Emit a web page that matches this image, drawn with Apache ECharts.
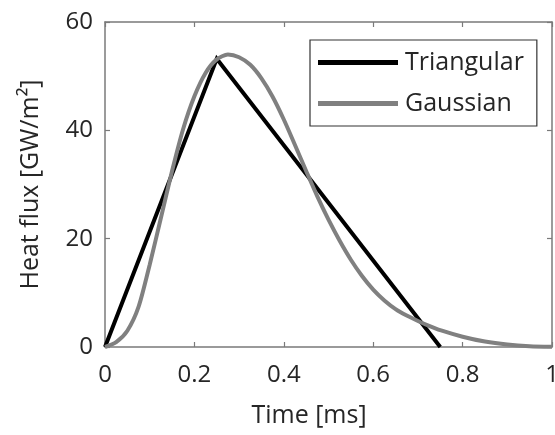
<!DOCTYPE html>
<html>
<head>
<meta charset="utf-8">
<script src="https://cdn.jsdelivr.net/npm/echarts@6/dist/echarts.min.js"></script>
<style>
html,body{margin:0;padding:0;background:#fff;}
#chart{width:555px;height:435px;}
</style>
</head>
<body>
<div id="chart"></div>
<script>
// Data
var seriesNames = ['Triangular', 'Gaussian'];
var triT = [0, 0.25, 0.75];
var triV = [0, 53.2, 0];
var gaussT = [0, 0.025, 0.05, 0.075, 0.1, 0.125, 0.15, 0.175, 0.2, 0.225, 0.25, 0.275, 0.3, 0.325, 0.35, 0.375, 0.4, 0.425, 0.45, 0.475, 0.5, 0.525, 0.55, 0.575, 0.6, 0.625, 0.65, 0.675, 0.7, 0.725, 0.75, 0.8, 0.85, 0.9, 0.95, 1.0];
var gaussV = [0, 0.9, 3.0, 7.4, 15.2, 23.8, 32.5, 40.3, 46.3, 50.6, 53.1, 54.0, 53.5, 52.1, 49.6, 46.2, 42.0, 37.3, 32.5, 27.8, 23.5, 19.6, 16.1, 13.1, 10.6, 8.6, 7.0, 5.8, 4.8, 3.9, 3.1, 1.9, 1.0, 0.45, 0.15, 0.05];
var xTicks = [0, 0.2, 0.4, 0.6, 0.8, 1];
var yTicks = [0, 20, 40, 60];

function pairs(t, v) { return t.map(function (x, i) { return [x, v[i]]; }); }

var font = 'Open Sans';
var axisColor = '#7a7a7a';
var textColor = '#262626';

var chart = echarts.init(document.getElementById('chart'), null, {renderer: 'canvas'});
var option = {
  animation: false,
  backgroundColor: '#ffffff',
  grid: {left: 105, right: 3, top: 22, bottom: 88, containLabel: false, outerBoundsMode: 'none'},
  legend: {
    orient: 'vertical',
    left: 310, top: 40,
    data: seriesNames,
    icon: 'rect',
    itemWidth: 80, itemHeight: 5,
    itemGap: 16,
    padding: [10, 13, 10, 8],
    borderColor: '#333333', borderWidth: 1.2,
    backgroundColor: '#ffffff',
    textStyle: {fontFamily: font, fontSize: 25, color: textColor, padding: [0, 0, 0, 2]}
  },
  xAxis: [{
    type: 'value', min: xTicks[0], max: xTicks[xTicks.length - 1], interval: 0.2,
    name: 'Time [ms]', nameLocation: 'middle', nameGap: 56,
    nameTextStyle: {fontFamily: font, fontSize: 25, color: textColor, padding: [0, 39, 0, 0]},
    axisLine: {show: true, lineStyle: {color: axisColor, width: 1.5}},
    axisTick: {show: true, inside: true, length: 5, lineStyle: {color: axisColor, width: 1.2}},
    axisLabel: {fontFamily: font, fontSize: 24, color: textColor, margin: 16},
    splitLine: {show: false}
  }, {
    type: 'value', position: 'top', min: 0, max: 1, interval: 0.2,
    axisLine: {show: true, onZero: false, lineStyle: {color: axisColor, width: 1.5}},
    axisTick: {show: true, inside: true, length: 5, lineStyle: {color: axisColor, width: 1.2}},
    axisLabel: {show: false}, splitLine: {show: false}
  }],
  yAxis: [{
    type: 'value', min: yTicks[0], max: yTicks[yTicks.length - 1], interval: 20,
    name: 'Heat flux [GW/m²]', nameLocation: 'middle', nameGap: 62, nameRotate: 90,
    nameTextStyle: {fontFamily: font, fontSize: 25, color: textColor},
    axisLine: {show: true, lineStyle: {color: axisColor, width: 1.5}},
    axisTick: {show: true, inside: true, length: 5, lineStyle: {color: axisColor, width: 1.2}},
    axisLabel: {fontFamily: font, fontSize: 24, color: textColor, margin: 12},
    splitLine: {show: false}
  }, {
    type: 'value', position: 'right', min: 0, max: 60, interval: 20,
    axisLine: {show: true, onZero: false, lineStyle: {color: axisColor, width: 1.5}},
    axisTick: {show: true, inside: true, length: 5, lineStyle: {color: axisColor, width: 1.2}},
    axisLabel: {show: false}, splitLine: {show: false}
  }],
  series: [{
    name: seriesNames[0], type: 'line', data: pairs(triT, triV),
    showSymbol: false, symbol: 'none',
    lineStyle: {color: '#000000', width: 4, join: 'miter'},
    itemStyle: {color: '#000000'}
  }, {
    name: seriesNames[1], type: 'line', data: pairs(gaussT, gaussV),
    smooth: 0.25, showSymbol: false, symbol: 'none',
    lineStyle: {color: '#808080', width: 4},
    itemStyle: {color: '#808080'}
  }]
};
chart.setOption(option);
</script>
</body>
</html>
